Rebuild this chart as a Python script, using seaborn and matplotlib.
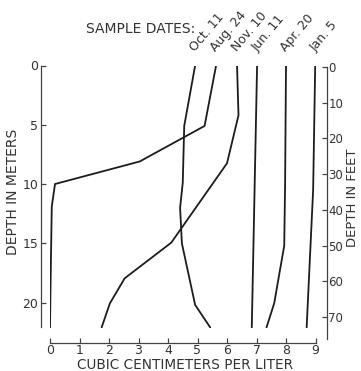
import numpy as np
import pandas as pd
import matplotlib
matplotlib.use("Agg")
import matplotlib.pyplot as plt
import seaborn as sns

# Sample dates (labels above each profile)
dates = ["Oct. 11", "Aug. 24", "Nov. 10", "Jun. 11", "Apr. 20", "Jan. 5"]

# Depth (m) and volume (cc per liter) for each profile
oct11_depth = [0, 5.1, 9.9, 12.0, 15.0, 20.2, 22.1]
oct11_value = [4.92, 4.55, 4.5, 4.41, 4.47, 4.92, 5.43]

aug24_depth = [0, 5.1, 8.1, 10.0, 11.9, 18.3, 22.1]
aug24_value = [5.63, 5.24, 3.04, 0.17, 0.06, 0.02, 0.0]

nov10_depth = [0, 4.2, 8.25, 14.95, 17.96, 20.07, 22.1]
nov10_value = [6.34, 6.39, 6.0, 4.11, 2.53, 2.03, 1.75]

jun11_depth = [0, 22.1]
jun11_value = [7.02, 6.84]

apr20_depth = [0, 9.9, 15.2, 20.07, 22.1]
apr20_value = [8.0, 7.97, 7.94, 7.6, 7.34]

jan5_depth = [0, 10.5, 22.1]
jan5_value = [8.99, 8.92, 8.7]

meter_ticks = [0, 5, 10, 15, 20]
feet_ticks = [0, 10, 20, 30, 40, 50, 60, 70]
cc_ticks = list(range(10))

profiles = {
    "Oct. 11": (oct11_depth, oct11_value),
    "Aug. 24": (aug24_depth, aug24_value),
    "Nov. 10": (nov10_depth, nov10_value),
    "Jun. 11": (jun11_depth, jun11_value),
    "Apr. 20": (apr20_depth, apr20_value),
    "Jan. 5": (jan5_depth, jan5_value),
}
frames = []
for name in dates:
    d, v = profiles[name]
    frames.append(pd.DataFrame({"date": name, "depth": d, "cc": v}))
df = pd.concat(frames, ignore_index=True)

sns.set_style("white")
plt.rcParams["font.family"] = ["DejaVu Sans"]

W, H = 361, 371
fig = plt.figure(figsize=(W / 100, H / 100), dpi=100)

def px_axes(left, top, right, bottom):
    return [left / W, 1 - bottom / H, (right - left) / W, (bottom - top) / H]

ink = "#1c1c1c"
txt = "#333333"
ax = fig.add_axes(px_axes(50, 65.5, 315.5, 328))
sns.lineplot(data=df, x="cc", y="depth", hue="date", hue_order=dates,
             palette=[ink] * len(dates), estimator=None, sort=False,
             orient="y", legend=False, linewidth=1.3, ax=ax)
ax.set_xlim(0, 9)
ax.set_ylim(22.15, 0)

for s in ["top", "right"]:
    ax.spines[s].set_visible(False)
ax.spines["left"].set_position(("outward", 6.5))
ax.spines["left"].set_bounds(0, 22.1)
ax.spines["bottom"].set_position(("outward", 10.8))
for s in ["left", "bottom"]:
    ax.spines[s].set_color("#444444")
    ax.spines[s].set_linewidth(0.9)

ax.set_yticks(meter_ticks)
ax.set_yticklabels([str(t) for t in meter_ticks])
ax.set_xticks(cc_ticks)
ax.set_xticklabels([str(t) for t in cc_ticks])
ax.tick_params(axis="y", direction="in", length=3.6, width=0.9, color="#444444",
               pad=2, labelsize=9, labelcolor=txt, left=True)
ax.tick_params(axis="x", direction="in", length=3.6, width=0.9, color="#444444",
               pad=1.0, labelsize=9, labelcolor=txt, bottom=True)
ax.set_xlabel("")
ax.set_ylabel("")
ax.patch.set_alpha(0)

# Feet scale on the right
ax2 = fig.add_axes(px_axes(50, 67, 315.5, 339))
ax2.set_ylim(76.1, 0)
ax2.set_xlim(0, 9)
ax2.patch.set_alpha(0)
for s in ["top", "left", "bottom"]:
    ax2.spines[s].set_visible(False)
ax2.spines["right"].set_position(("outward", 8.2))
ax2.spines["right"].set_color("#444444")
ax2.spines["right"].set_linewidth(0.9)
ax2.set_xticks([])
ax2.yaxis.set_ticks_position("right")
ax2.set_yticks(feet_ticks)
ax2.set_yticklabels([str(t) for t in feet_ticks])
ax2.tick_params(axis="y", direction="in", length=3.6, width=0.9, color="#444444",
                pad=1.0, labelsize=8.5, labelcolor=txt, right=True, left=False)

# Axis titles
fig.text(185 / W, 1 - 369 / H, "CUBIC CENTIMETERS PER LITER", fontsize=9.8,
         color=txt, ha="center", va="baseline")
fig.text(13 / W, 1 - 192 / H, "DEPTH IN METERS", fontsize=10, color=txt,
         rotation=90, ha="center", va="center")
fig.text(352 / W, 1 - 198 / H, "DEPTH IN FEET", fontsize=9.5, color=txt,
         rotation=90, ha="center", va="center")

# Date labels at the top of each profile
for name in dates:
    d, v = profiles[name]
    ax.annotate(name, xy=(v[0], d[0]), xytext=(1.5, 8), textcoords="offset points",
                rotation=50, rotation_mode="anchor", ha="left", va="bottom",
                fontsize=9, color=txt, annotation_clip=False)

fig.text(86 / W, 1 - 29 / H, "SAMPLE DATES:", fontsize=10, color=txt,
         ha="left", va="center")

fig.savefig("out.png", dpi=100, facecolor="white")
